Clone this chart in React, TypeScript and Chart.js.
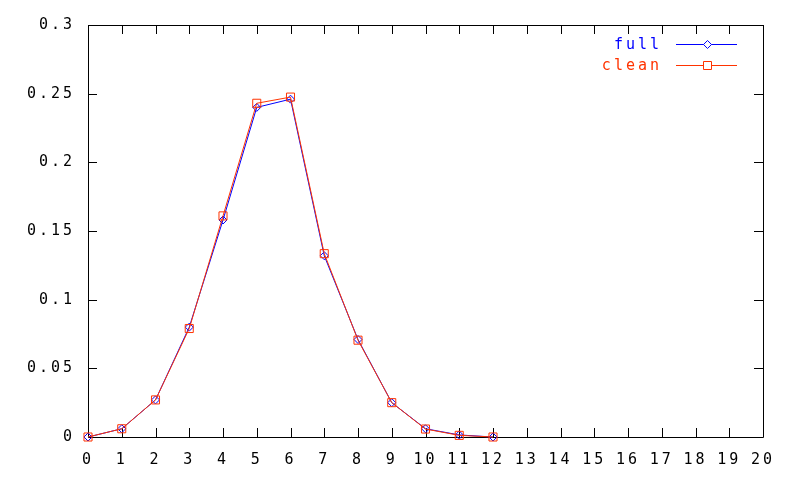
import React, { useEffect, useRef } from "react";
import { Chart, registerables } from "chart.js";

Chart.register(...registerables);

const xValues = [0, 1, 2, 3, 4, 5, 6, 7, 8, 9, 10, 11, 12];
const fullValues = [0, 0.006, 0.027, 0.08, 0.158, 0.24, 0.246, 0.132, 0.071, 0.025, 0.006, 0.0015, 0];
const cleanValues = [0, 0.006, 0.027, 0.079, 0.161, 0.243, 0.2475, 0.1335, 0.0705, 0.025, 0.0058, 0.0012, 0];
const seriesLabels = ["full", "clean"];
const xMin = 0;
const xMax = 20;
const yMin = 0;
const yMax = 0.3;
const yStep = 0.05;

const BLUE = "#0000ff";
const RED = "#ff3300";
const FONT = "'DejaVu Sans Mono', monospace";
const SPACING = "3px";

const spacingPlugin = {
  id: "spacing",
  beforeLayout(chart: any) {
    chart.ctx.letterSpacing = SPACING;
  },
  beforeDraw(chart: any) {
    chart.ctx.letterSpacing = SPACING;
  },
};

const framePlugin = {
  id: "frame",
  beforeDatasetsDraw(chart: any) {
    const { ctx, chartArea } = chart;
    const { left, right, top, bottom } = chartArea;
    const xs = chart.scales.x;
    const ys = chart.scales.y;
    const tl = 9;
    ctx.save();
    ctx.strokeStyle = "#000";
    ctx.lineWidth = 1;
    ctx.beginPath();
    ctx.rect(Math.round(left) + 0.5, Math.round(top) + 0.5, Math.round(right - left), Math.round(bottom - top));
    xs.ticks.forEach((t: any) => {
      const px = Math.round(xs.getPixelForValue(t.value)) + 0.5;
      ctx.moveTo(px, bottom);
      ctx.lineTo(px, bottom - tl);
      ctx.moveTo(px, top);
      ctx.lineTo(px, top + tl);
    });
    ys.ticks.forEach((t: any) => {
      const py = Math.round(ys.getPixelForValue(t.value)) + 0.5;
      ctx.moveTo(left, py);
      ctx.lineTo(left + tl, py);
      ctx.moveTo(right, py);
      ctx.lineTo(right - tl, py);
    });
    ctx.stroke();
    ctx.restore();
  },
};

const legendPlugin = {
  id: "gpLegend",
  afterDatasetsDraw(chart: any) {
    const { ctx, chartArea } = chart;
    const textRight = chartArea.right - 104;
    const lineStart = chartArea.right - 87;
    const lineEnd = chartArea.right - 26;
    const mid = (lineStart + lineEnd) / 2;
    const rows = [
      { idx: 1, y: chartArea.top + 19 },
      { idx: 0, y: chartArea.top + 40 },
    ];
    ctx.save();
    ctx.letterSpacing = SPACING;
    ctx.font = `15px ${FONT}`;
    ctx.textAlign = "right";
    ctx.textBaseline = "middle";
    rows.forEach((r) => {
      const ds = chart.data.datasets[r.idx];
      ctx.fillStyle = ds.borderColor;
      ctx.fillText(ds.label, textRight + 3, r.y + 1);
      ctx.strokeStyle = ds.borderColor;
      ctx.lineWidth = 1;
      ctx.beginPath();
      ctx.moveTo(lineStart, Math.round(r.y) + 0.5);
      ctx.lineTo(lineEnd, Math.round(r.y) + 0.5);
      ctx.stroke();
      ctx.fillStyle = "#fff";
      ctx.beginPath();
      const cy = Math.round(r.y) + 0.5;
      const cx = Math.round(mid) + 0.5;
      if (ds.pointStyle === "rect") {
        const h = 4;
        ctx.rect(cx - h, cy - h, 2 * h, 2 * h);
      } else {
        const h = 4;
        ctx.moveTo(cx, cy - h);
        ctx.lineTo(cx + h, cy);
        ctx.lineTo(cx, cy + h);
        ctx.lineTo(cx - h, cy);
        ctx.closePath();
      }
      ctx.fill();
      ctx.stroke();
    });
    ctx.restore();
  },
};

export default function App() {
  const ref = useRef<HTMLCanvasElement | null>(null);
  useEffect(() => {
    if (!ref.current) return;
    const chart = new Chart(ref.current, {
      type: "line",
      data: {
        datasets: [
          {
            label: seriesLabels[1],
            data: xValues.map((x, i) => ({ x, y: cleanValues[i] })),
            borderColor: RED,
            backgroundColor: "rgba(0,0,0,0)",
            borderWidth: 1,
            pointStyle: "rect",
            pointRadius: 5.7,
            pointBorderWidth: 1,
            pointBorderColor: RED,
            clip: false,
            order: 0,
          },
          {
            label: seriesLabels[0],
            data: xValues.map((x, i) => ({ x, y: fullValues[i] })),
            borderColor: BLUE,
            backgroundColor: "rgba(0,0,0,0)",
            borderWidth: 1,
            pointStyle: "rectRot",
            pointRadius: 4,
            pointBorderWidth: 1,
            pointBorderColor: BLUE,
            clip: false,
            order: 1,
          },
        ],
      },
      options: {
        responsive: false,
        animation: false,
        layout: { padding: { top: 25, right: 37, left: 0, bottom: 0 } },
        plugins: { legend: { display: false }, tooltip: { enabled: false } },
        scales: {
          x: {
            type: "linear",
            min: xMin,
            max: xMax,
            ticks: {
              stepSize: 1,
              color: "#000",
              font: { family: FONT, size: 15 },
              padding: 14,
              maxRotation: 0,
              autoSkip: false,
            },
            grid: { display: false, drawTicks: false },
            border: { display: false },
            afterFit: (s: any) => {
              s.height = 43;
            },
          },
          y: {
            type: "linear",
            min: yMin,
            max: yMax,
            ticks: {
              stepSize: yStep,
              color: "#000",
              font: { family: FONT, size: 15 },
              padding: 13,
              callback: (v: any) => String(Number(Number(v).toFixed(2))),
            },
            grid: { display: false, drawTicks: false },
            border: { display: false },
            afterFit: (s: any) => {
              s.width = 88;
            },
          },
        },
      },
      plugins: [spacingPlugin, framePlugin, legendPlugin],
    });
    return () => chart.destroy();
  }, []);
  return (
    <div style={{ position: "fixed", left: 0, top: 0, width: 800, height: 480, background: "#fff" }}>
      <canvas ref={ref} width={800} height={480} />
    </div>
  );
}
